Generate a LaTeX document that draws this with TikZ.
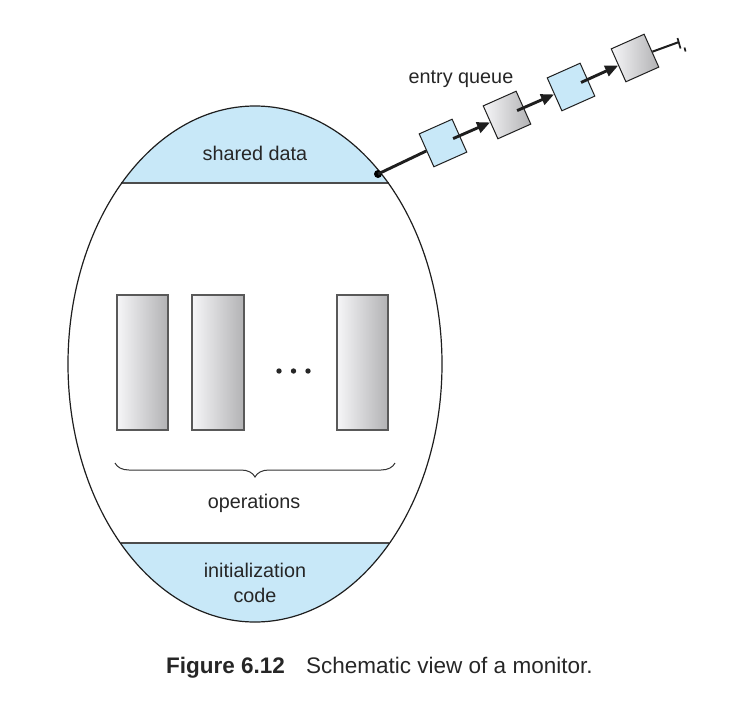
\documentclass[tikz,border=0pt]{standalone}
\usepackage{fontspec}
\setmainfont{Liberation Sans}
\usetikzlibrary{calc,arrows.meta,decorations.pathreplacing,shapes.geometric}
\definecolor{mblue}{RGB}{200,232,248}
\definecolor{mline}{RGB}{30,30,30}
\definecolor{rgray}{RGB}{178,178,180}
\definecolor{rlight}{RGB}{246,246,248}
\tikzset{
  txt/.style={font=\fontsize{19.8}{22}\selectfont, text=black!85, inner sep=0pt, anchor=base},
  oprect/.style={draw=black!65, line width=1.1pt, left color=rlight, right color=rgray},
  qbox/.style={draw=mline, line width=1pt, minimum size=36pt, inner sep=0pt, rotate=24},
  qblue/.style={qbox, fill=mblue},
  qgray/.style={qbox, left color=rlight, right color=rgray, shading angle=90},
  qline/.style={draw=mline, line width=2.9pt},
  qarrow/.style={qline, -{Triangle[length=13pt,width=11pt]}},
  sep/.style={draw=black!70, line width=1.8pt},
}
\begin{document}
\begin{tikzpicture}[x=1pt,y=-1pt]
\useasboundingbox (0,0) rectangle (730,704);
% monitor ellipse
\begin{scope}
  \clip (255,364) ellipse [x radius=187, y radius=258];
  \fill[mblue] (60,90) rectangle (450,183);
  \fill[mblue] (60,543) rectangle (450,630);
\end{scope}
\draw[sep] (121,183) -- (389,183);
\draw[sep] (121,543) -- (389,543);
\node[draw=mline, line width=1.2pt, ellipse, minimum width=374pt, minimum height=516pt, inner sep=0pt] (mon) at (255,364) {};
% texts
\node[txt] (sd) at (255,160) {shared data};
\node[txt] (ops) at (254,508) {operations};
\node[txt] (ini) at (255,577) {initialization};
\node[txt] (code) at (255,602) {code};
% operation rectangles
\draw[oprect] (117,295) rectangle (168,430);
\draw[oprect] (192,295) rectangle (244,430);
\draw[oprect] (337,295) rectangle (388,430);
\fill[black!85] (279,371) circle (2.7pt) (293.5,371) circle (2.7pt) (308,371) circle (2.7pt);
% brace
\draw[black!80, line width=1pt, decorate, decoration={brace, amplitude=14pt}] (395,463) -- (115,463);
% entry queue
\node[txt] (eq) at (461,83) {entry queue};
\node[circle, fill=black, inner sep=0pt, minimum size=8pt] (dot) at (378,174) {};
\node[qblue] (q1) at (443,143) {};
\node[qgray] (q2) at (507,115) {};
\node[qblue] (q3) at (571,87) {};
\node[qgray] (q4) at (635,58) {};
\draw[qline] (dot.center) -- (q1);
\draw[qarrow] ($(q1.center)!11pt!(q2.center)$) -- (q2);
\draw[qarrow] ($(q2.center)!11pt!(q3.center)$) -- (q3);
\draw[qarrow] ($(q3.center)!11pt!(q4.center)$) -- (q4);
\coordinate (gnd) at (679,42);
\draw[mline, line width=2pt] (q4) -- (gnd);
\draw[mline, line width=1.7pt] (677.5,38) -- (680.5,48.5);
\draw[mline, line width=1.7pt] (684.5,47.5) -- (685.5,51.5);
% caption
\node[font=\fontsize{22.5}{26}\selectfont\bfseries, text=black!85, inner sep=0pt, anchor=base west] (fig) at (166,673) {Figure 6.12};
\node[font=\fontsize{22.5}{26}\selectfont, text=black!85, inner sep=0pt, anchor=base west] (cap) at (306,673) {Schematic view of a monitor.};
\end{tikzpicture}
\end{document}
